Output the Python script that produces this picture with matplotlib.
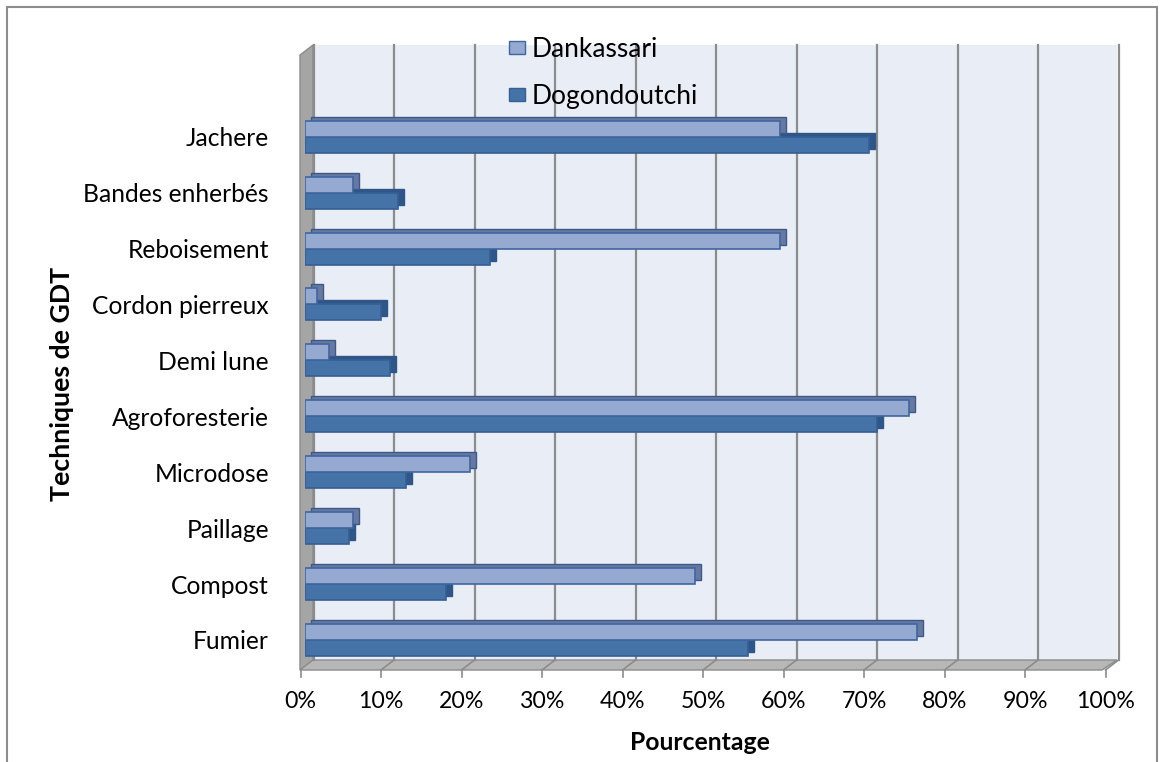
import numpy as np
import matplotlib
matplotlib.use("Agg")
import matplotlib.pyplot as plt
import matplotlib.transforms as mtransforms
from matplotlib.patches import Polygon, Rectangle, Patch
from matplotlib.lines import Line2D

plt.rcParams['font.family'] = ['Lato', 'DejaVu Sans']

categories = ["Fumier", "Compost", "Paillage", "Microdose", "Agroforesterie",
              "Demi lune", "Cordon pierreux", "Reboisement", "Bandes enherbés", "Jachere"]
dankassari = [76, 48.5, 6, 20.5, 75, 3, 1.5, 59, 6, 59]
dogondoutchi = [55, 17.5, 5.5, 12.5, 71, 10.5, 9.5, 23, 11.5, 70]
xticks = list(range(0, 101, 10))
xticklabels = [f"{t}%" for t in xticks]

W, H = 1164, 762
fig = plt.figure(figsize=(W / 100, H / 100), dpi=100)

def px(x, y):
    return (x / W, 1 - y / H)

# axes: x from 305px (0%) to 1110px (100%), y from 45px to 670px
ax = fig.add_axes([305 / W, 1 - 670 / H, (1110 - 305) / W, (670 - 45) / H])
ax.set_xlim(0, 100)
ax.set_ylim(-0.537, 10.64)
ax.patch.set_visible(False)
for s in ax.spines.values():
    s.set_visible(False)

# outer border
fig.patches.append(Rectangle(px(7, 770), 1150 / W, 763 / H, transform=fig.transFigure,
                             fill=False, edgecolor="#8C8C8C", linewidth=1.5, zorder=-2))

# back wall, side wall and floor
fig.patches.append(Polygon([px(313, 45), px(1117, 45), px(1117, 660), px(313, 660)],
                           transform=fig.transFigure, facecolor="#E9EDF6", edgecolor="none", zorder=-2))
fig.patches.append(Polygon([px(300, 55), px(313, 45), px(313, 660), px(300, 670)],
                           transform=fig.transFigure, facecolor="#A5A5A5", edgecolor="#8C8C8C",
                           linewidth=1, zorder=-2))
fig.patches.append(Polygon([px(300, 670), px(313, 660), px(1117, 660), px(1102, 670)],
                           transform=fig.transFigure, facecolor="#B7B7B7", edgecolor="#8C8C8C",
                           linewidth=1, zorder=-2))

# gridlines on the back wall + floor lines + front tick marks
tb = mtransforms.blended_transform_factory(ax.transData, ax.transAxes)
back = mtransforms.offset_copy(tb, fig=fig, x=8.5, y=0, units='dots')
front = mtransforms.offset_copy(tb, fig=fig, x=-4.5, y=0, units='dots')
y_back = 10 / 625
for t in xticks:
    ax.plot([t, t], [y_back, 1], transform=back, color="#8C8C8C", lw=1.6, zorder=0.5, clip_on=False)
for t in xticks[1:]:
    fb = fig.transFigure.inverted()
    p0 = fb.transform(back.transform((t, y_back)))
    p1 = fb.transform(front.transform((t, 0)))
    fig.lines.append(Line2D([p0[0], p1[0]], [p0[1], p1[1]],
                            transform=fig.transFigure, color="#8C8C8C", lw=1.2, zorder=-1))
for t in xticks:
    ax.plot([t, t], [0, -7 / 625], transform=front, color="#8C8C8C", lw=1.2, clip_on=False)

# bars with pseudo 3D caps
y = np.arange(len(categories))
h = 0.286
shadow = mtransforms.offset_copy(ax.transData, fig=fig, x=6, y=4, units='dots')
ax.barh(y - h / 2, dogondoutchi, height=h, color="#2F5589", edgecolor="#2F5589",
        transform=shadow, zorder=2)
ax.barh(y - h / 2, dogondoutchi, height=h, color="#4572A7", edgecolor="#355F96",
        linewidth=1.2, zorder=3)
ax.barh(y + h / 2, dankassari, height=h, color="#6878A0", edgecolor="#3A5A8C",
        transform=shadow, zorder=4)
ax.barh(y + h / 2, dankassari, height=h, color="#95A9D1", edgecolor="#3E66A0",
        linewidth=1.2, zorder=5)

# ticks and labels
ax.set_yticks(y)
ax.set_yticklabels(categories, fontsize=17.7)
ax.tick_params(axis='y', length=0, pad=26)
ax.set_xticks(xticks)
ax.set_xticklabels(xticklabels, fontsize=16.7)
ax.tick_params(axis='x', length=0, pad=15)
for lab in ax.get_xticklabels():
    lab.set_transform(lab.get_transform() + mtransforms.ScaledTranslation(-4.5 / 100, 0, fig.dpi_scale_trans))

fig.text(700 / W, 1 - 742 / H, "Pourcentage", ha="center", va="center",
         fontsize=17.8, fontweight="bold")
fig.text(62 / W, 1 - 384 / H, "Techniques de GDT", ha="center", va="center",
         rotation=90, fontsize=19.2, fontweight="bold")

handles = [Patch(facecolor="#95A9D1", edgecolor="#3E66A0"),
           Patch(facecolor="#4572A7", edgecolor="#355F96")]
fig.legend(handles, ["Dankassari", "Dogondoutchi"], loc="upper left",
           bbox_to_anchor=(485 / W, 1 - 13 / H), frameon=False, fontsize=19,
           labelspacing=0.85, handlelength=0.6, handleheight=0.4, handletextpad=0.25)

fig.savefig("out.png", dpi=100)
